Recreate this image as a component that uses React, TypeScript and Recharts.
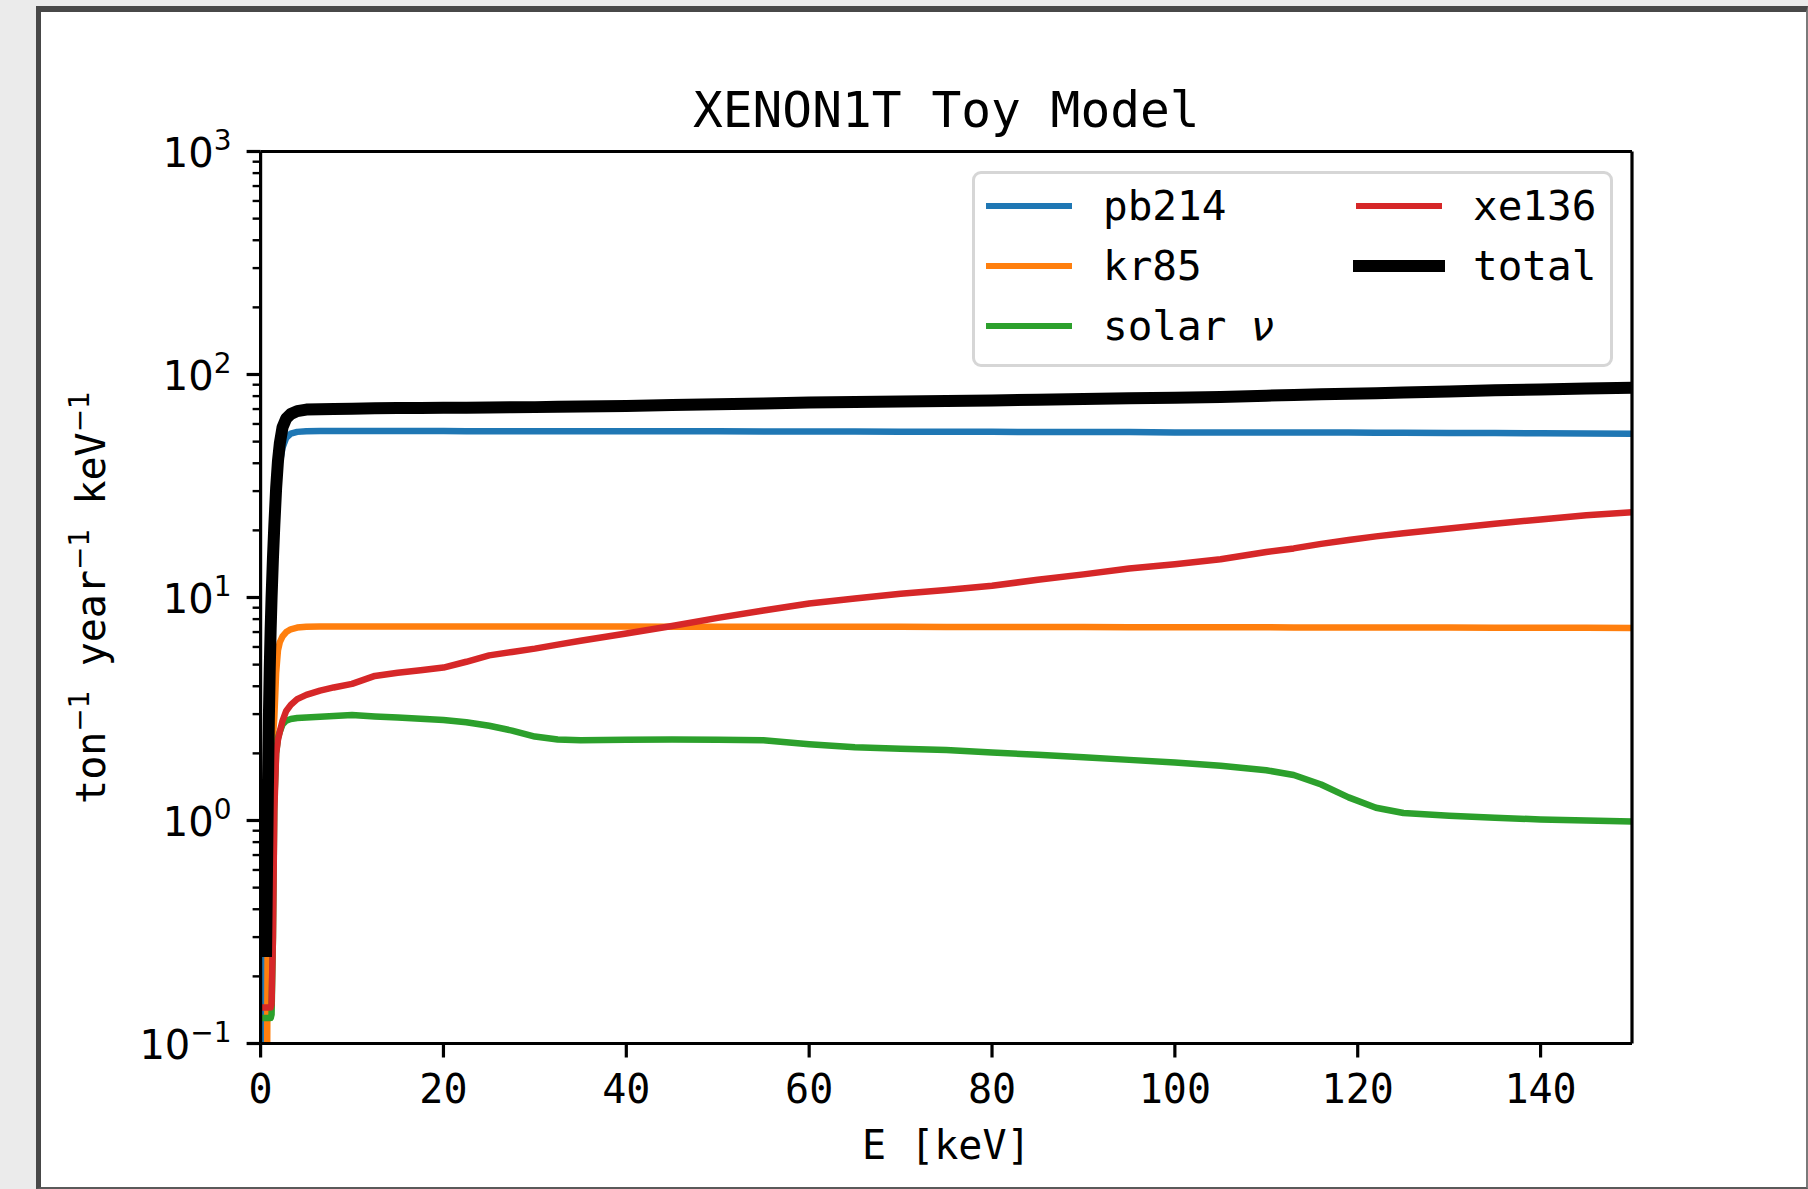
import { LineChart, Line, XAxis, YAxis, ReferenceLine, Legend, Label } from 'recharts';

// energy grid (keV) shared by every spectrum
const energy = [
  0.3, 0.5, 0.6, 0.7, 0.8, 0.9, 1.0, 1.1, 1.2, 1.35,
  1.5, 1.7, 1.9, 2.1, 2.4, 2.8, 3.3, 4, 5, 6.5,
  8, 10, 12.5, 15, 17.5, 20, 22.5, 25, 27.5, 30,
  32.5, 35, 40, 45, 50, 55, 60, 65, 70, 75,
  80, 85, 90, 95, 100, 105, 110, 113, 116, 119,
  122, 125, 130, 135, 140, 145, 150,
];

// rates in ton^-1 year^-1 keV^-1
const pb214 = [
  0.05, 0.25, 0.4, 0.7, 1.2, 2.2, 3.8, 6, 8.5, 12.5,
  17, 25, 33, 40, 47, 52, 54.3, 55.3, 55.7, 55.8,
  55.8, 55.8, 55.8, 55.8, 55.8, 55.8, 55.7, 55.7, 55.7, 55.7,
  55.7, 55.7, 55.6, 55.6, 55.6, 55.5, 55.5, 55.5, 55.4, 55.4,
  55.4, 55.2, 55.2, 55.2, 55.0, 55.0, 55.0, 54.9, 54.9, 54.9,
  54.8, 54.8, 54.7, 54.6, 54.5, 54.4, 54.3,
];
const kr85 = [
  0.05, 0.05, 0.05, 0.06, 0.6, 1.6, 2.0, 2.2, 2.3, 2.4,
  2.9, 4.6, 5.8, 6.3, 6.7, 7.0, 7.2, 7.33, 7.4, 7.42,
  7.42, 7.42, 7.42, 7.42, 7.42, 7.42, 7.42, 7.42, 7.41, 7.41,
  7.41, 7.41, 7.41, 7.4, 7.4, 7.4, 7.4, 7.39, 7.39, 7.38,
  7.38, 7.37, 7.37, 7.36, 7.36, 7.35, 7.35, 7.34, 7.34, 7.34,
  7.34, 7.33, 7.33, 7.32, 7.32, 7.31, 7.3,
];
const solarNu = [
  0.13, 0.13, 0.13, 0.13, 0.13, 0.13, 0.13, 0.13, 0.135, 0.3,
  1.2, 2.0, 2.35, 2.5, 2.7, 2.8, 2.85, 2.88, 2.9, 2.92,
  2.94, 2.97, 2.93, 2.9, 2.86, 2.82, 2.76, 2.66, 2.53, 2.38,
  2.31, 2.29, 2.3, 2.31, 2.3, 2.29, 2.2, 2.13, 2.1, 2.07,
  2.02, 1.97, 1.92, 1.87, 1.82, 1.76, 1.68, 1.6, 1.45, 1.27,
  1.14, 1.08, 1.05, 1.03, 1.01, 1.0, 0.99,
];
const xe136 = [
  0.145, 0.145, 0.145, 0.145, 0.145, 0.145, 0.145, 0.145, 0.15, 0.3,
  1.1, 2.0, 2.3, 2.5, 2.8, 3.1, 3.3, 3.5, 3.66, 3.82,
  3.95, 4.1, 4.45, 4.6, 4.72, 4.85, 5.15, 5.5, 5.7, 5.9,
  6.15, 6.4, 6.9, 7.45, 8.1, 8.75, 9.4, 9.9, 10.4, 10.8,
  11.3, 12.0, 12.7, 13.5, 14.1, 14.85, 16.0, 16.6, 17.4, 18.1,
  18.8, 19.4, 20.4, 21.4, 22.4, 23.4, 24.1,
];
const total = [
  null, null, 0.26, 0.6, 1.4, 2.8, 4.8, 7.2, 10, 15,
  21, 31, 41, 49, 58, 63.5, 66.5, 68.5, 69.6, 69.9,
  70.1, 70.3, 70.6, 70.7, 70.8, 70.9, 71.0, 71.2, 71.3, 71.4,
  71.6, 71.8, 72.3, 72.9, 73.5, 74.2, 74.8, 75.3, 75.7, 76.1,
  76.5, 77.0, 77.6, 78.3, 78.7, 79.3, 80.4, 80.9, 81.5, 82.0,
  82.4, 83.0, 83.9, 84.9, 85.7, 86.6, 87.3,
];

const xTicks = [0, 20, 40, 60, 80, 100, 120, 140];
const yMajorTicks = [0.1, 1, 10, 100, 1000];
const yMinorTicks = [
  0.2, 0.3, 0.4, 0.5, 0.6, 0.7, 0.8, 0.9,
  2, 3, 4, 5, 6, 7, 8, 9,
  20, 30, 40, 50, 60, 70, 80, 90,
  200, 300, 400, 500, 600, 700, 800, 900,
];

const SERIES = [
  { key: 'pb214', name: 'pb214', color: '#1f77b4', width: 6.5 },
  { key: 'kr85', name: 'kr85', color: '#ff7f0e', width: 6.5 },
  { key: 'solar', name: 'solar ν', color: '#2ca02c', width: 6.5 },
  { key: 'xe136', name: 'xe136', color: '#d62728', width: 6.5 },
  { key: 'total', name: 'total', color: '#000000', width: 12 },
];

const rows = energy.map((e, i) => ({
  e,
  pb214: pb214[i],
  kr85: kr85[i],
  solar: solarNu[i],
  xe136: xe136[i],
  total: total[i],
}));

const yTicks = [...yMajorTicks, ...yMinorTicks].sort((a, b) => a - b);

const MONO = '"DejaVu Sans Mono", monospace';
const SANS = '"DejaVu Sans", sans-serif';

// layout of the axes box (px)
const PLOT_LEFT = 260.6;
const PLOT_TOP = 151.5;
const PLOT_RIGHT = 1632;
const PLOT_BOTTOM = 1043.5;
const W = 1808;
const H = 1189;

function LogTick(props: any) {
  const { x, y, payload } = props;
  const v = payload.value;
  const axisX = x + 14;
  const exp = Math.round(Math.log10(v));
  const major = Math.abs(Math.log10(v) - exp) < 1e-6;
  return (
    <g>
      <line
        x1={axisX - (major ? 14 : 8)}
        x2={axisX}
        y1={y}
        y2={y}
        stroke="#000"
        strokeWidth={major ? 3.2 : 2.4}
      />
      {major && (
        <text x={axisX - 29} y={y + 15} textAnchor="end" fontFamily={SANS} fontSize={40} fill="#000">
          10
          <tspan dy={-16.5} fontSize={28}>
            {exp < 0 ? '\u2212' + -exp : String(exp)}
          </tspan>
        </text>
      )}
    </g>
  );
}

function EnergyTick(props: any) {
  const { x, y, payload } = props;
  return (
    <text x={x} y={y + 31.8} textAnchor="middle" fontFamily={MONO} fontSize={40} fill="#000">
      {payload.value}
    </text>
  );
}

function XLabel() {
  return (
    <text x={(PLOT_LEFT + PLOT_RIGHT) / 2} y={1158.5} textAnchor="middle" fontFamily={MONO} fontSize={40} fill="#000">
      E [keV]
    </text>
  );
}

function YLabel() {
  const sup = { fontFamily: SANS, fontSize: 28 };
  return (
    <text
      transform="rotate(-90)"
      x={-(PLOT_TOP + PLOT_BOTTOM) / 2}
      y={105}
      textAnchor="middle"
      fontFamily={MONO}
      fontSize={40}
      fill="#000"
    >
      ton
      <tspan {...sup} dy={-16.5}>{'\u22121'}</tspan>
      <tspan dy={16.5}>{' year'}</tspan>
      <tspan {...sup} dy={-16.5}>{'\u22121'}</tspan>
      <tspan dy={16.5}>{' keV'}</tspan>
      <tspan {...sup} dy={-16.5}>{'\u22121'}</tspan>
    </text>
  );
}

function LegendBox() {
  const rowsY = [31.5, 91.7, 151.7];
  return (
    <div
      style={{
        position: 'relative',
        width: 641,
        height: 196,
        boxSizing: 'border-box',
        border: '3px solid #d6d6d6',
        borderRadius: 9,
        background: 'rgba(255,255,255,0.8)',
        fontFamily: MONO,
        fontSize: 41,
        color: '#000',
      }}
    >
      {SERIES.map((s, i) => {
        const col = i < 3 ? 0 : 1;
        const row = i < 3 ? i : i - 3;
        const lineStart = col === 0 ? 14 : 383.5;
        const textLeft = col === 0 ? 128 : 498;
        const cy = rowsY[row];
        const w = s.key === 'total' ? 12 : 6;
        return (
          <div key={s.key}>
            <div
              style={{
                position: 'absolute',
                left: lineStart - w / 2,
                top: cy - w / 2,
                width: 80 + w,
                height: w,
                background: s.color,
              }}
            />
            <div
              style={{
                position: 'absolute',
                left: textLeft,
                top: cy - 20,
                lineHeight: '41px',
                whiteSpace: 'pre',
              }}
            >
              {s.key === 'solar' ? (
                <>
                  {'solar '}
                  <span style={{ fontFamily: SANS, fontStyle: 'italic' }}>ν</span>
                </>
              ) : (
                s.name
              )}
            </div>
          </div>
        );
      })}
    </div>
  );
}

export default function App() {
  return (
    <div style={{ position: 'fixed', inset: 0, background: '#ebebeb', overflow: 'hidden' }}>
      {/* notebook output frame */}
      <div
        style={{
          position: 'absolute',
          left: 36,
          top: 6,
          width: W - 36,
          height: H - 6,
          boxSizing: 'border-box',
          background: '#fff',
          borderLeft: '5px solid #484848',
          borderTop: '6px solid #484848',
          borderRight: '2px solid #7a7a7a',
          borderBottom: '2px solid #5a5a5a',
        }}
      />
      <div
        style={{
          position: 'absolute',
          left: PLOT_LEFT,
          width: PLOT_RIGHT - PLOT_LEFT,
          top: 85.5,
          textAlign: 'center',
          fontFamily: MONO,
          fontSize: 49.5,
          lineHeight: '49.5px',
          color: '#000',
          whiteSpace: 'pre',
        }}
      >
        XENON1T Toy Model
      </div>
      <div style={{ position: 'absolute', left: 0, top: 0 }}>
        <LineChart
          width={W}
          height={H}
          data={rows}
          margin={{ top: PLOT_TOP, right: W - PLOT_RIGHT, bottom: H - PLOT_BOTTOM - 1, left: PLOT_LEFT - 1 }}
        >
          <XAxis
            dataKey="e"
            type="number"
            domain={[0, 150]}
            ticks={xTicks}
            interval={0}
            allowDataOverflow
            height={1}
            tickSize={14}
            tickMargin={14}
            tickLine={{ stroke: '#000', strokeWidth: 3.2 }}
            axisLine={{ stroke: '#000', strokeWidth: 3.2 }}
            tick={<EnergyTick />}
          >
            <Label content={<XLabel />} />
          </XAxis>
          <YAxis
            scale="log"
            type="number"
            domain={[0.1, 1000]}
            allowDataOverflow
            ticks={yTicks}
            interval={0}
            width={1}
            tickSize={14}
            tickMargin={0}
            tickLine={false}
            axisLine={{ stroke: '#000', strokeWidth: 3.2 }}
            tick={<LogTick />}
          >
            <Label content={<YLabel />} />
          </YAxis>
          {SERIES.map((s) => (
            <Line
              key={s.key}
              dataKey={s.key}
              name={s.name}
              type="linear"
              stroke={s.color}
              strokeWidth={s.width}
              strokeLinecap="square"
              strokeLinejoin="round"
              dot={false}
              activeDot={false}
              isAnimationActive={false}
            />
          ))}
          <ReferenceLine y={1000} stroke="#000" strokeWidth={3.2} />
          <ReferenceLine x={150} stroke="#000" strokeWidth={3.2} />
          <Legend
            layout="horizontal"
            verticalAlign="middle"
            align="center"
            content={<LegendBox />}
            wrapperStyle={{ left: 972, top: 171, width: 641, height: 196 }}
          />
        </LineChart>
      </div>
    </div>
  );
}
